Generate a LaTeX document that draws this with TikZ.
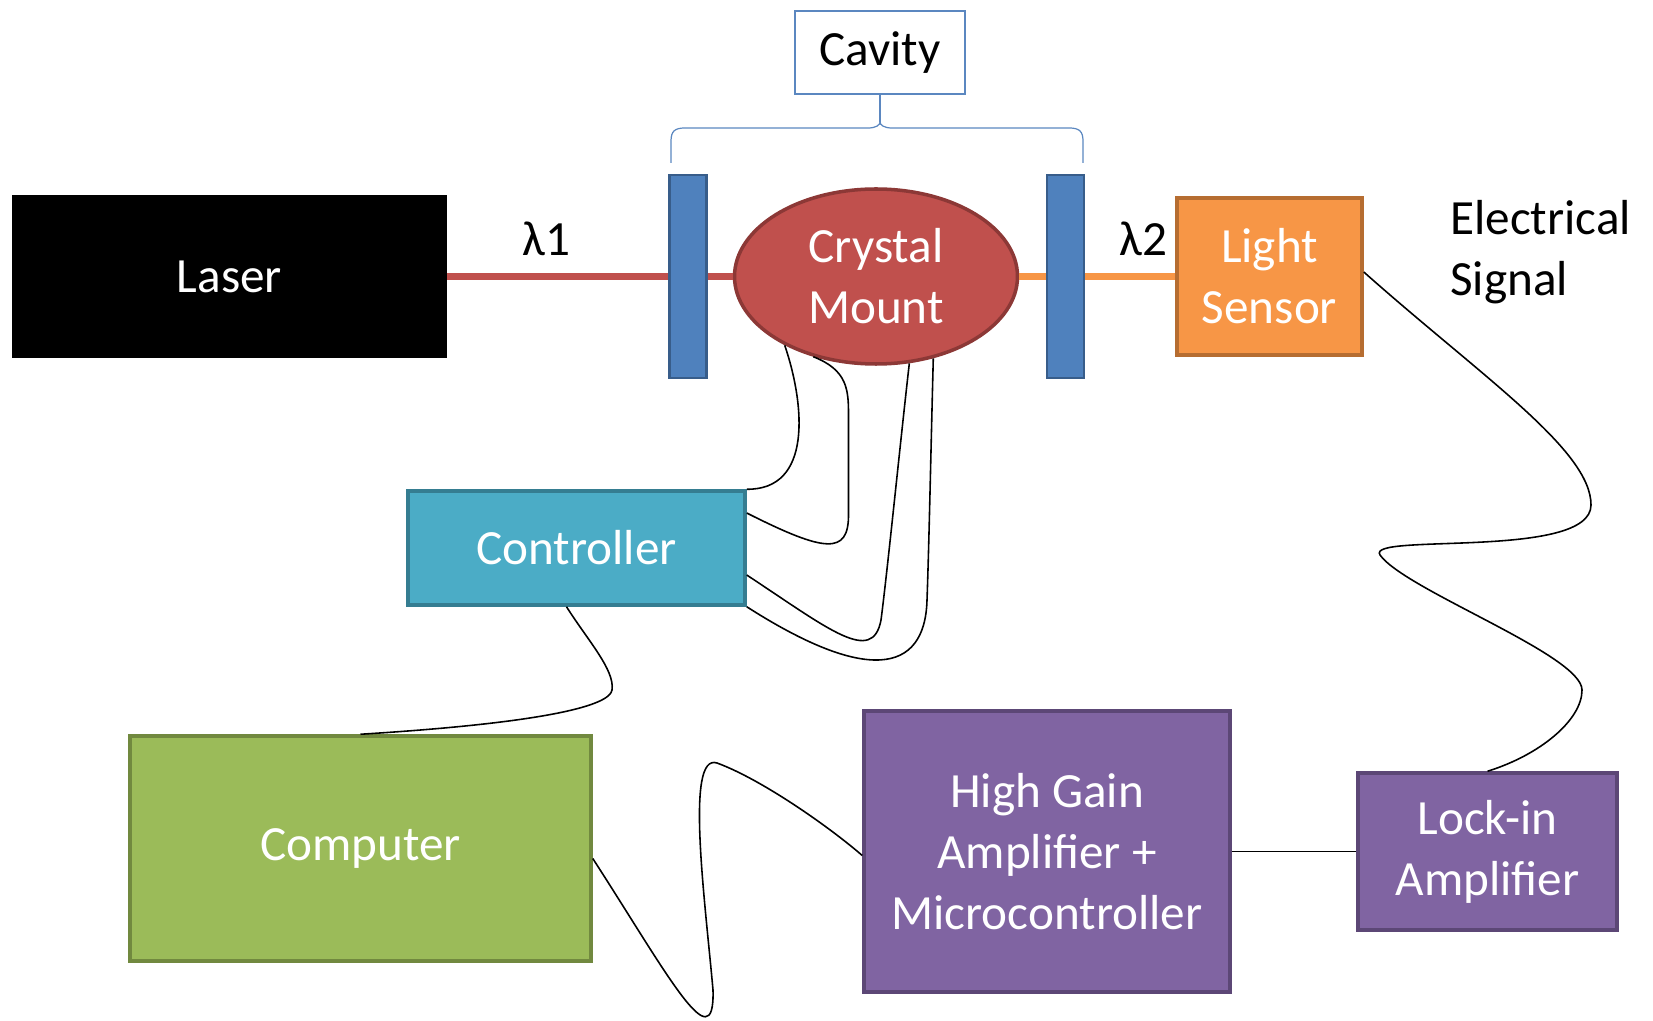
\documentclass[tikz,border=0pt]{standalone}
\usepackage{fontspec}
\setmainfont{Carlito}
\usepackage{tikz}
\usetikzlibrary{shapes.geometric, positioning}

\definecolor{crystalred}{HTML}{C0504D}
\definecolor{crystalline}{HTML}{8C3836}
\definecolor{mirrorblue}{HTML}{4F81BD}
\definecolor{mirrorline}{HTML}{385D8A}
\definecolor{sensororange}{HTML}{F79646}
\definecolor{sensorline}{HTML}{B66D31}
\definecolor{ctrlblue}{HTML}{4BACC6}
\definecolor{ctrlline}{HTML}{357D91}
\definecolor{compgreen}{HTML}{9BBB59}
\definecolor{compline}{HTML}{71893F}
\definecolor{ampviolet}{HTML}{8064A2}
\definecolor{ampline}{HTML}{5C4776}
\definecolor{bracecol}{HTML}{5B87C0}

\begin{document}
\begin{tikzpicture}[font=\fontsize{28}{34.7}\selectfont,
  block/.style={rectangle, draw, line width=2pt, text=white, align=center},
  mirror/.style={rectangle, draw=mirrorline, fill=mirrorblue, line width=1.5pt,
    minimum width=0.74cm, minimum height=4.06cm, inner sep=0pt},
  beam/.style={line width=3.6pt},
  wire/.style={line width=0.9pt, black},
  brace/.style={draw=bracecol, line width=0.7pt}]
  \useasboundingbox (0,0) rectangle (33.06,20.4);

  % Optical path
  \node[block, fill=black, draw=black, minimum width=8.62cm, minimum height=3.18cm] (laser) at (4.59,14.87) {Laser};
  \node[mirror] (mirL) at (13.76,14.87) {};
  \node[mirror] (mirR) at (21.31,14.87) {};
  \node[block, ellipse, fill=crystalred, draw=crystalline, minimum width=5.66cm, minimum height=3.5cm] (crystal) at (17.52,14.87) {Crystal\\Mount};
  \node[block, fill=sensororange, draw=sensorline, minimum width=3.7cm, minimum height=3.14cm] (sensor) at (25.39,14.87) {Light\\Sensor};
  \node[align=left, anchor=west, inner sep=0pt] (signal) at (29.0,15.35) {Electrical\\Signal};

  % Beams
  \draw[beam, crystalred] (laser.east) -- (mirL.west);
  \draw[beam, crystalred] (mirL.east) -- (crystal.west);
  \draw[beam, sensororange] (crystal.east) -- (mirR.west);
  \draw[beam, sensororange] (mirR.east) -- (sensor.west);
  \path (laser.east) -- (mirL.west) node[pos=0.45, yshift=0.75cm] (lamA) {λ1};
  \path (mirR.east) -- (sensor.west) node[pos=0.65, yshift=0.75cm] (lamB) {λ2};

  % Cavity label and brace
  \node[draw=bracecol, line width=0.7pt, minimum width=3.4cm, minimum height=1.66cm] (cavity) at (17.6,19.35) {Cavity};
  \coordinate (bracetip) at (17.6,17.96);
  \draw[brace] (13.42,17.14) -- (13.42,17.58) .. controls (13.42,17.78) and (13.5,17.84) .. (13.7,17.84)
    -- (17.36,17.84) .. controls (17.52,17.84) and (17.6,17.9) .. (bracetip)
    .. controls (17.6,17.9) and (17.68,17.84) .. (17.84,17.84)
    -- (21.38,17.84) .. controls (21.58,17.84) and (21.66,17.78) .. (21.66,17.58) -- (21.66,17.14);
  \draw[brace] (cavity.south) -- (bracetip);

  % Electronics
  \node[block, fill=ctrlblue, draw=ctrlline, minimum width=6.74cm, minimum height=2.28cm] (ctrl) at (11.53,9.44) {Controller};
  \node[block, fill=compgreen, draw=compline, minimum width=9.22cm, minimum height=4.5cm] (comp) at (7.21,3.43) {Computer};
  \node[block, fill=ampviolet, draw=ampline, minimum width=7.32cm, minimum height=5.62cm] (amp) at (20.94,3.37) {High Gain\\Amplifier +\\Microcontroller};
  \node[block, fill=ampviolet, draw=ampline, minimum width=5.18cm, minimum height=3.14cm] (lockin) at (29.75,3.37) {Lock-in\\Amplifier};

  % Controller wiring to the crystal mount
  \draw[wire] (crystal.217) .. controls (16.1,12.3) and (16.25,10.6) .. (ctrl.north east);
  \draw[wire] (crystal.232) .. controls (16.95,13.0) and (16.97,12.6) .. (16.97,12.1)
    -- (16.97,10.1) .. controls (16.97,9.3) and (16.5,9.35) .. ([yshift=0.7cm]ctrl.east);
  \draw[wire] (crystal.291) .. controls (18.0,11.5) and (17.75,9.0) .. (17.62,8.0)
    .. controls (17.45,7.1) and (16.6,7.8) .. ([yshift=-0.54cm]ctrl.east);
  \draw[wire] (crystal.305) .. controls (18.62,11.5) and (18.58,9.5) .. (18.54,8.4)
    .. controls (18.5,6.9) and (17.3,6.75) .. (ctrl.south east);

  % Data cables
  \draw[wire] ([xshift=-0.2cm]ctrl.south) .. controls (11.75,7.6) and (12.3,7.0) .. (12.24,6.6)
    .. controls (12.2,6.3) and (11.0,5.95) .. (comp.north);
  \draw[wire] ([yshift=-0.2cm]comp.east) .. controls (13.3,1.0) and (14.3,-0.9) .. (14.26,0.6)
    .. controls (14.1,2.4) and (13.7,5.35) .. (14.34,5.14)
    .. controls (15.24,4.81) and (16.6,3.85) .. ([yshift=-0.08cm]amp.west);
  \draw[wire] (amp.east) -- (lockin.west);
  \draw[wire] ([yshift=0.09cm]sensor.east) .. controls (29.64,12.86) and (31.82,11.4) .. (31.82,10.3)
    .. controls (31.82,9.2) and (27.3,9.75) .. (27.6,9.3)
    .. controls (28.1,8.6) and (31.64,7.3) .. (31.64,6.6)
    .. controls (31.64,6.0) and (30.8,5.3) .. (lockin.north);
\end{tikzpicture}
\end{document}
